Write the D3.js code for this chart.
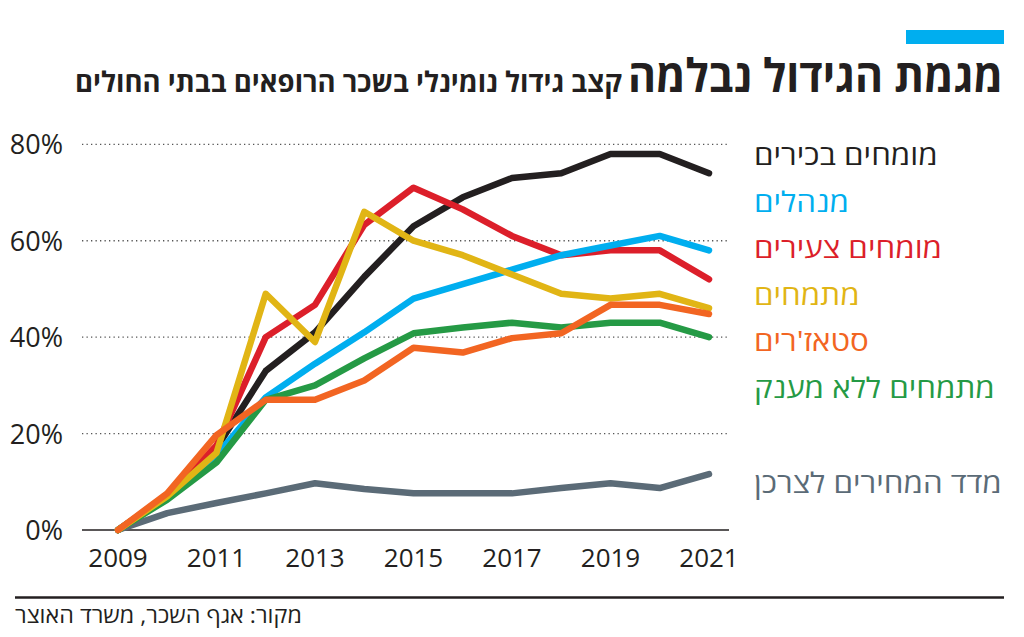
<!DOCTYPE html>
<html>
<head>
<meta charset="utf-8">
<script src="https://cdn.jsdelivr.net/npm/d3@7"></script>
<style>
  html, body { margin: 0; padding: 0; background: #fff; }
  svg { display: block; }
  text { font-family: "Open Sans", "DejaVu Sans", "Liberation Sans", sans-serif; }
</style>
</head>
<body>
<svg id="chart" width="1024" height="637"></svg>
<script>
const years = [2009, 2010, 2011, 2012, 2013, 2014, 2015, 2016, 2017, 2018, 2019, 2020, 2021];
const seniorSpecialists = [0, 7, 17, 33, 41, 52.5, 63, 69, 73, 74, 78, 78, 74];
const youngSpecialists = [0, 7, 17.5, 40, 46.7, 63.3, 71, 66.5, 61, 57, 58, 58, 52];
const managers = [0, 7, 15.5, 27.5, 34.5, 41, 48, 51, 54, 57, 59, 61, 58];
const residents = [0, 7, 16, 49, 39, 66, 60, 57, 53, 49, 48, 49, 46];
const interns = [0, 7.6, 19.7, 27, 27, 31, 37.8, 36.8, 39.8, 40.8, 46.7, 46.7, 44.8];
const residentsNoGrant = [0, 6.3, 14, 27, 30, 35.6, 40.8, 42, 43, 42, 43, 43, 40];
const cpi = [0, 3.5, 5.6, 7.6, 9.7, 8.5, 7.6, 7.6, 7.6, 8.7, 9.7, 8.7, 11.6];

const yTicks = [0, 20, 40, 60, 80];
const xTicks = [2009, 2011, 2013, 2015, 2017, 2019, 2021];

const title = "מגמת הגידול נבלמה";
const subtitle = "קצב גידול נומינלי בשכר הרופאים בבתי החולים";
const source = "מקור: אגף השכר, משרד האוצר";

// series drawn bottom -> top
const seriesNames = ["מדד המחירים לצרכן", "מומחים בכירים", "מומחים צעירים", "מנהלים", "מתמחים ללא מענק", "מתמחים", "סטאז'רים"];
const seriesValues = [cpi, seniorSpecialists, youngSpecialists, managers, residentsNoGrant, residents, interns];
const seriesColors = ["#5b6b77", "#231f20", "#dc1f2a", "#00aeef", "#259a45", "#e1b515", "#f26522"];
const series = seriesNames.map((n, i) => ({ name: n, values: seriesValues[i], color: seriesColors[i] }));

// legend order (top -> bottom)
const legendNames = ["מומחים בכירים", "מנהלים", "מומחים צעירים", "מתמחים", "סטאז'רים", "מתמחים ללא מענק", "מדד המחירים לצרכן"];

const svg = d3.select("#chart");

const x = d3.scaleLinear().domain([2009, 2021]).range([118, 709]);
const y = d3.scaleLinear().domain([0, 80]).range([530, 144.3]);

// helper: fit text horizontally to a width by scaling x
function fitText(sel, left, baseline, width) {
  const w = sel.node().getComputedTextLength();
  sel.attr("x", 0).attr("y", 0)
     .attr("transform", `translate(${left},${baseline}) scale(${width / w},1)`);
}

// title block
svg.append("rect").attr("x", 906).attr("y", 30).attr("width", 98).attr("height", 14).attr("fill", "#00aeef");
const t1 = svg.append("text").text(title)
  .attr("font-size", 46).attr("font-weight", 700).attr("fill", "#231f20");
fitText(t1, 628, 92, 375);
const t2 = svg.append("text").text(subtitle)
  .attr("font-size", 28).attr("font-weight", 700).attr("fill", "#231f20");
fitText(t2, 75, 92, 547);

// gridlines
svg.append("g").selectAll("line").data(yTicks.filter(d => d > 0)).join("line")
  .attr("x1", 82).attr("x2", 729)
  .attr("y1", d => y(d)).attr("y2", d => y(d))
  .attr("stroke", "#555").attr("stroke-width", 1.3)
  .attr("stroke-dasharray", "1.3,3.2");
svg.append("line").attr("x1", 82).attr("x2", 729).attr("y1", y(0)).attr("y2", y(0))
  .attr("stroke", "#231f20").attr("stroke-width", 1.6);

// y labels
svg.append("g").selectAll("text").data(yTicks).join("text")
  .attr("x", 63).attr("y", d => y(d) + 10)
  .attr("text-anchor", "end")
  .attr("font-size", 27).attr("fill", "#231f20")
  .text(d => d + "%");

// x labels
svg.append("g").selectAll("text").data(xTicks).join("text")
  .attr("x", d => x(d)).attr("y", 567)
  .attr("text-anchor", "middle")
  .attr("font-size", 26).attr("fill", "#231f20")
  .text(d => d);

// lines
const line = d3.line().x((d, i) => x(years[i])).y(d => y(d));
svg.append("g").selectAll("path").data(series).join("path")
  .attr("d", d => line(d.values))
  .attr("fill", "none")
  .attr("stroke", d => d.color)
  .attr("stroke-width", 6.5)
  .attr("stroke-linejoin", "round")
  .attr("stroke-linecap", "round");

// legend
const colorOf = Object.fromEntries(series.map(s => [s.name, s.color]));
const legendY = [165, 212, 258, 305, 351, 398, 493];
const lg = svg.append("g");
legendNames.forEach((n, i) => {
  const t = lg.append("text").text(n)
    .attr("font-size", 28)
    .attr("fill", colorOf[n]);
  const w = t.node().getComputedTextLength();
  fitText(t, 754, legendY[i], w * 1.12);
});

// bottom rule & source
svg.append("line").attr("x1", 15).attr("x2", 1004).attr("y1", 597.5).attr("y2", 597.5)
  .attr("stroke", "#231f20").attr("stroke-width", 2.5);
const src = svg.append("text").text(source)
  .attr("font-size", 22).attr("fill", "#231f20");
fitText(src, 15, 623, 287);
</script>
</body>
</html>
